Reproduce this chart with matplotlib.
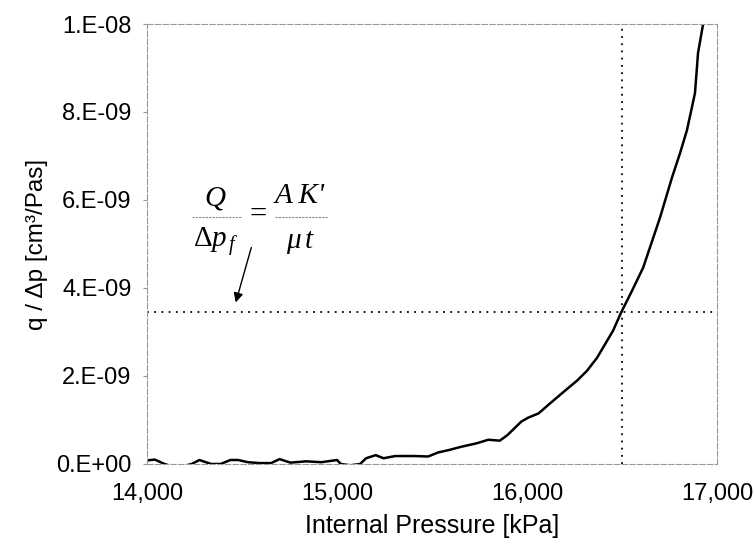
"""Flow / pressure-drop ratio vs internal pressure, with the Q/dp_f construction lines."""

import matplotlib
matplotlib.use("Agg")
import matplotlib.pyplot as plt
import matplotlib.ticker as ticker
import numpy as np


# ── data ─────────────────────────────────────────────────────────────────────

pressure_kpa = [
    14000, 14041, 14092, 14130, 14190, 14235, 14276, 14337, 14388, 14439,
    14480, 14531, 14592, 14653, 14698, 14755, 14837, 14918, 15000, 15020,
    15070, 15122, 15153, 15204, 15245, 15306, 15408, 15480, 15531, 15592,
    15653, 15735, 15796, 15857, 15898, 15969, 16005, 16061, 16122, 16204,
    16265, 16316, 16368, 16453, 16495, 16553, 16611, 16647, 16700, 16763,
    16805, 16842, 16884, 16900, 16926,
]
q_over_dp = [
    0.08, 0.10, 0.00, -0.05, -0.05, 0.00, 0.09, 0.00, 0.00, 0.09,
    0.09, 0.04, 0.02, 0.02, 0.11, 0.03, 0.06, 0.04, 0.09, 0.00,
    -0.03, 0.00, 0.13, 0.20, 0.13, 0.18, 0.18, 0.17, 0.26, 0.32,
    0.39, 0.47, 0.55, 0.53, 0.66, 0.96, 1.05, 1.15, 1.38, 1.68,
    1.90, 2.12, 2.41, 3.03, 3.44, 3.94, 4.46, 4.92, 5.60, 6.51,
    7.06, 7.59, 8.43, 9.34, 9.98,
]  # units of 1e-9 cm3/Pas

crit_pressure = 16500
crit_ratio = 3.45e-9

x_ticks = [14000, 15000, 16000, 17000]
y_ticks = [0, 2e-9, 4e-9, 6e-9, 8e-9, 1e-8]


# ── plot ─────────────────────────────────────────────────────────────────────

plt.rcParams["font.family"] = ["Liberation Sans", "DejaVu Sans"]
plt.rcParams["mathtext.fontset"] = "custom"
plt.rcParams["mathtext.rm"] = "Liberation Serif"
plt.rcParams["mathtext.it"] = "Liberation Serif:italic"

fig = plt.figure(figsize=(7.55, 5.53), dpi=100)
ax = fig.add_axes([0.1947, 0.161, 0.755, 0.7956])

y = np.array(q_over_dp) * 1e-9
ax.plot(pressure_kpa, y, color="black", lw=1.8)

ax.axhline(crit_ratio, color="black", ls=(0, (1, 3)), lw=1.3)
ax.axvline(crit_pressure, color="black", ls=(0, (1, 3)), lw=1.3)

ax.set_xlim(14000, 17000)
ax.set_ylim(0, 1e-8)
ax.set_xticks(x_ticks)
ax.set_yticks(y_ticks)
ax.xaxis.set_major_formatter(ticker.FuncFormatter(lambda v, _: f"{v:,.0f}"))
ax.yaxis.set_major_formatter(ticker.FuncFormatter(lambda v, _: "%#.0E" % v))

for side in ["top", "right", "left", "bottom"]:
    ax.spines[side].set_color("#999999")
    ax.spines[side].set_linestyle((0, (5, 2)))
    ax.spines[side].set_linewidth(0.8)
ax.tick_params(axis="both", labelsize=17, colors="#999999", labelcolor="black",
               length=3, width=0.8)
ax.tick_params(axis="y", pad=8)
ax.tick_params(axis="x", length=0, pad=14)

ax.set_xlabel("Internal Pressure [kPa]", fontsize=18, labelpad=6)
ax.set_ylabel("q / Δp [cm³/Pas]", fontsize=17.5, labelpad=6)

# formula Q/dp_f = AK'/(mu t), laid out piece by piece like the original
ftxt = dict(fontsize=21, ha="center", va="center")
ax.text(14358, 6.05e-9, r"$Q$", **ftxt)
ax.text(14365, 5.05e-9, r"$\Delta p_{\,f}$", **ftxt)
ax.text(14584, 5.66e-9, "=", fontsize=22, ha="center", va="center",
        family="Liberation Serif")
ax.text(14805, 6.08e-9, "A K'", fontsize=21, ha="center", va="center",
        family="Liberation Serif", style="italic")
ax.text(14805, 5.05e-9, r"$\mu\, t$", **ftxt)
ax.plot([14237, 14500], [5.61e-9, 5.61e-9], color="#888888", lw=0.8, ls=(0, (2, 1)))
ax.plot([14674, 14953], [5.61e-9, 5.61e-9], color="#888888", lw=0.8, ls=(0, (2, 1)))

ax.annotate("", xy=(14463, 3.61e-9), xytext=(14553, 4.98e-9),
            arrowprops=dict(arrowstyle="-|>", color="black", lw=1.0,
                            mutation_scale=14))

fig.savefig("out.png", dpi=100)
